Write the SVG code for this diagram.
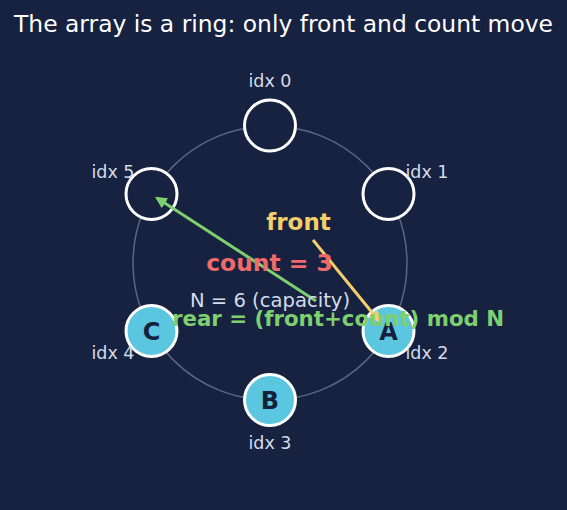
<svg xmlns="http://www.w3.org/2000/svg" width="567" height="510" viewBox="0 0 567 510">
<defs>
<style>
text{font-family:"DejaVu Sans","Liberation Sans",sans-serif;text-anchor:middle}
.idx{font-size:17.5px;fill:#d4dcea}
.node{stroke:#ffffff;stroke-width:3}
.empty{fill:#172241}
.full{fill:#5bc6df}
.let{font-size:24px;font-weight:bold;fill:#14213d}
</style>
<marker id="ay" viewBox="0 0 10 10" refX="8" refY="5" markerWidth="4" markerHeight="4" orient="auto-start-reverse" markerUnits="strokeWidth"><path d="M0,0L10,5L0,10z" fill="#f2cf6b"/></marker>
<marker id="ag" viewBox="0 0 10 10" refX="8" refY="5" markerWidth="4" markerHeight="4" orient="auto-start-reverse" markerUnits="strokeWidth"><path d="M0,0L10,5L0,10z" fill="#7dcf6f"/></marker>
</defs>
<rect width="567" height="510" fill="#172241"/>
<text x="283.5" y="32" style="font-size:23.4px;fill:#ffffff">The array is a ring: only front and count move</text>
<circle cx="270" cy="263" r="137" fill="none" stroke="#5a6682" stroke-width="1.5"/>
<g id="n0"><circle class="node empty" cx="270" cy="125.5" r="25.5"/><text class="idx" x="270" y="87">idx 0</text></g>
<g id="n1"><circle class="node empty" cx="388.5" cy="194" r="25.5"/><text class="idx" x="427" y="178">idx 1</text></g>
<g id="n2"><circle class="node full" cx="388.5" cy="331" r="25.5"/><text class="let" x="388.5" y="339.5">A</text><text class="idx" x="427" y="359">idx 2</text></g>
<g id="n3"><circle class="node full" cx="270" cy="400" r="25.5"/><text class="let" x="270" y="408.5">B</text><text class="idx" x="270" y="449">idx 3</text></g>
<g id="n4"><circle class="node full" cx="151.5" cy="331" r="25.5"/><text class="let" x="151.5" y="339.5">C</text><text class="idx" x="113" y="359">idx 4</text></g>
<g id="n5"><circle class="node empty" cx="151.5" cy="194" r="25.5"/><text class="idx" x="113" y="178">idx 5</text></g>
<g id="connectors">
<line x1="313" y1="240" x2="379" y2="321" stroke="#f2cf6b" stroke-width="3" marker-end="url(#ay)"/>
<line x1="316" y1="301" x2="157" y2="198" stroke="#7dcf6f" stroke-width="3" marker-end="url(#ag)"/>
</g>
<text x="298.5" y="229.5" style="font-size:23px;font-weight:bold;fill:#f2cf6b">front</text>
<text x="269.5" y="270.5" style="font-size:23.4px;font-weight:bold;fill:#f06a6a">count = 3</text>
<text x="270" y="307" style="font-size:19.6px;fill:#d4dcea">N = 6 (capacity)</text>
<text x="338" y="325.5" style="font-size:21.3px;font-weight:bold;fill:#7dcf6f">rear = (front+count) mod N</text>
</svg>
